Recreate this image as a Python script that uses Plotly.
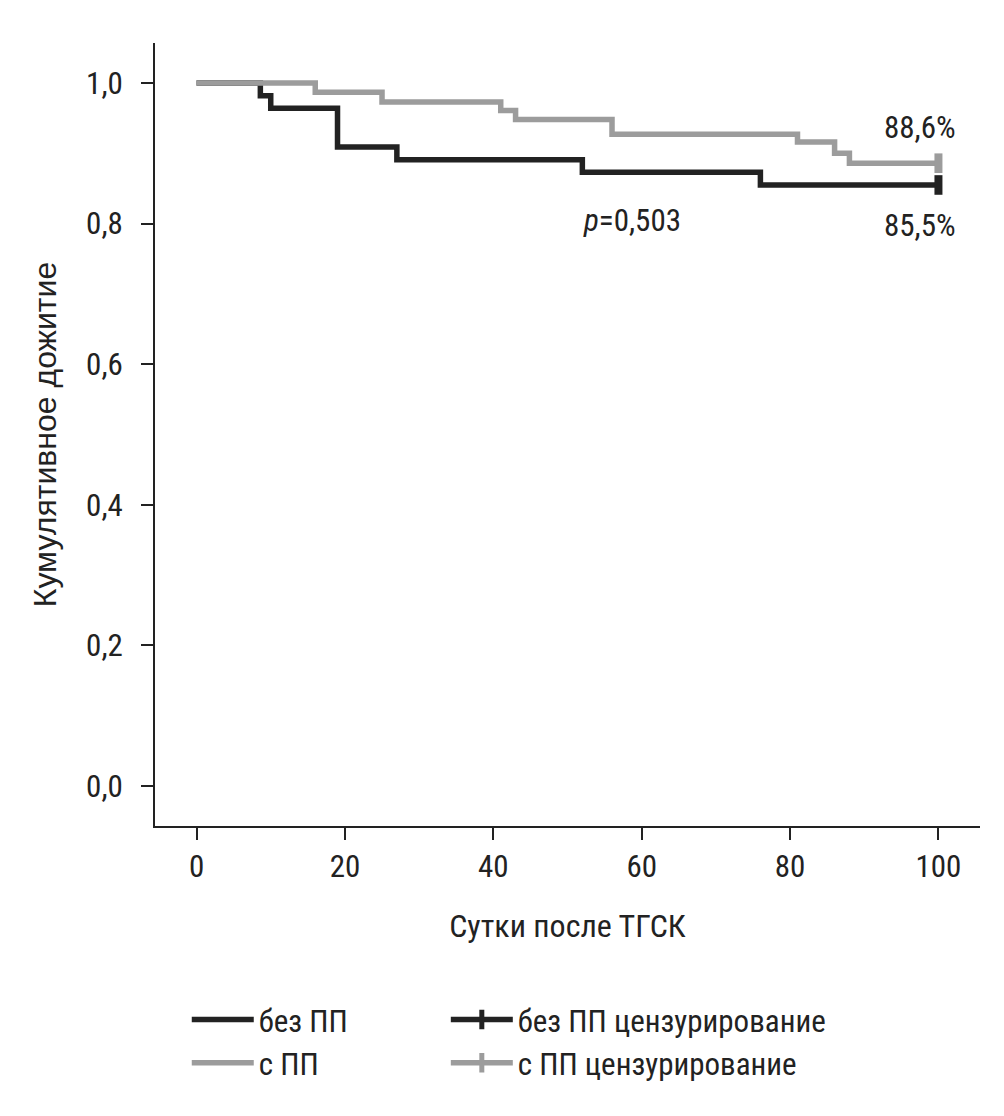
import plotly.graph_objects as go

# Data
days_no_pp = [0, 8.6, 10, 19, 27, 52, 76, 100]
surv_no_pp = [1.0, 0.982, 0.964, 0.909, 0.891, 0.873, 0.855, 0.855]
days_pp = [0, 16, 25, 41, 43, 56, 81, 86, 88, 100]
surv_pp = [1.0, 0.987, 0.973, 0.961, 0.948, 0.927, 0.916, 0.900, 0.886, 0.886]
censor_x_no_pp = [100]
censor_y_no_pp = [0.855]
censor_x_pp = [100]
censor_y_pp = [0.886]
x_ticks = [0, 20, 40, 60, 80, 100]
y_ticks = [0.0, 0.2, 0.4, 0.6, 0.8, 1.0]
y_ticklabels = ["0,0", "0,2", "0,4", "0,6", "0,8", "1,0"]

BLACK = "#222222"
GRAY = "#9c9c9c"
COND = "Roboto Condensed, Liberation Sans Narrow, DejaVu Sans Condensed, sans-serif"

fig = go.Figure()
fig.add_trace(go.Scatter(x=days_no_pp, y=surv_no_pp, mode="lines", line_shape="hv",
                         line=dict(color=BLACK, width=5.5), name="без ПП", legend="legend"))
fig.add_trace(go.Scatter(x=censor_x_no_pp, y=censor_y_no_pp, mode="lines+markers",
                         line=dict(color=BLACK, width=5.5),
                         marker=dict(symbol="line-ns", size=14, line=dict(color=BLACK, width=8)),
                         name="без ПП цензурирование", legend="legend2"))
fig.add_trace(go.Scatter(x=days_pp, y=surv_pp, mode="lines", line_shape="hv",
                         line=dict(color=GRAY, width=5.5), name="с ПП", legend="legend"))
fig.add_trace(go.Scatter(x=censor_x_pp, y=censor_y_pp, mode="lines+markers",
                         line=dict(color=GRAY, width=5.5),
                         marker=dict(symbol="line-ns", size=14, line=dict(color=GRAY, width=8)),
                         name="с ПП цензурирование", legend="legend2"))

fig.add_annotation(x=100, y=0.886, xref="x", yref="y", text="88,6%", showarrow=False,
                   xanchor="right", yanchor="bottom", yshift=15, xshift=20,
                   font=dict(family=COND, size=31, color=BLACK))
fig.add_annotation(x=100, y=0.855, xref="x", yref="y", text="85,5%", showarrow=False,
                   xanchor="right", yanchor="top", yshift=-20, xshift=20,
                   font=dict(family=COND, size=31, color=BLACK))
fig.add_annotation(x=58.7, y=0.805, xref="x", yref="y", text="<i>p</i>=0,503", showarrow=False,
                   xanchor="center", yanchor="middle",
                   font=dict(family=COND, size=31, color=BLACK))

legend_common = dict(orientation="v", yanchor="top", xanchor="left",
                     font=dict(family=COND, size=31, color=BLACK),
                     itemwidth=62, tracegroupgap=0, traceorder="normal",
                     bgcolor="rgba(0,0,0,0)")

fig.update_layout(
    width=988, height=1100,
    margin=dict(l=147, r=16, t=35, b=282, autoexpand=False),
    paper_bgcolor="white", plot_bgcolor="white",
    showlegend=True,
    legend=dict(x=0.0385, y=-0.213, **legend_common),
    legend2=dict(x=0.3525, y=-0.213, **legend_common),
    xaxis=dict(range=[-5.6, 105.6], tickvals=x_ticks, showgrid=False, zeroline=False,
               automargin=False,
               showline=True, linecolor=BLACK, linewidth=2, ticks="outside",
               ticklen=12, tickwidth=2, tickcolor=BLACK,
               tickfont=dict(family=COND, size=31, color=BLACK),
               title=dict(text="Сутки после ТГСК", standoff=30,
                          font=dict(family=COND, size=32, color=BLACK))),
    yaxis=dict(range=[-0.057, 1.057], tickvals=y_ticks, ticktext=y_ticklabels,
               showgrid=False, zeroline=False, automargin=False,
               showline=True, linecolor=BLACK, linewidth=2, ticks="outside",
               ticklen=12, tickwidth=2, tickcolor=BLACK,
               tickfont=dict(family=COND, size=31, color=BLACK),
               ticklabelstandoff=12,
               title=dict(text="Кумулятивное дожитие", standoff=20,
                          font=dict(family="Liberation Sans, Arial, sans-serif", size=32, color=BLACK))),
)

fig.write_html("out.html")
